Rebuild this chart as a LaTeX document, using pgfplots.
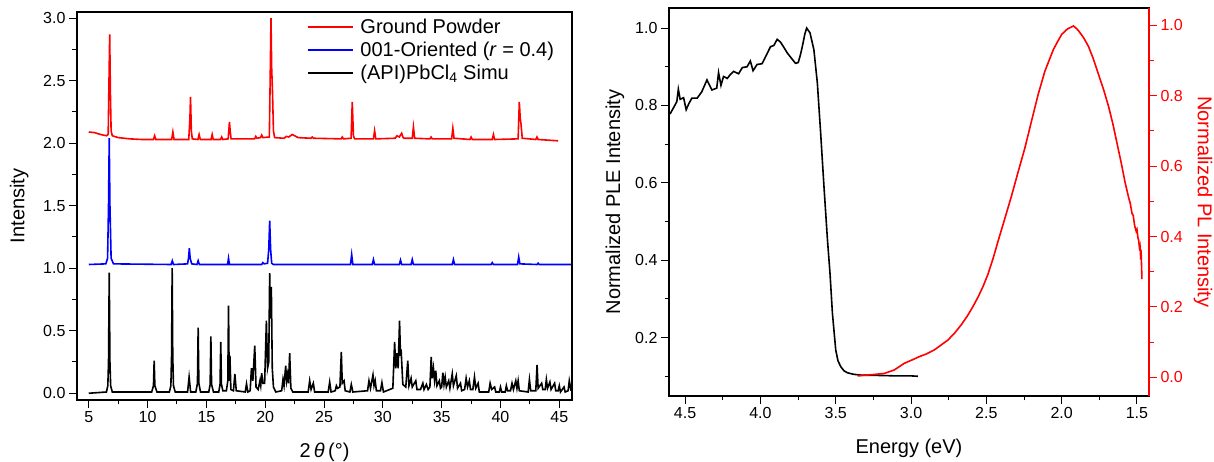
\documentclass[border=0pt]{standalone}
\usepackage{pgfplots}
\pgfplotsset{compat=1.18}
\usepackage{fontspec}
\setmainfont{Liberation Sans}
\begin{document}
\begin{tikzpicture}[x=1pt,y=1pt]
\path[use as bounding box] (0,0) rectangle (1214,462);
\pgfplotsset{
  common/.style={
    scale only axis,
    /pgf/number format/assume math mode=true,
    tick align=outside,
    major tick length=8pt,
    minor tick length=4.5pt,
    every tick/.style={line width=1pt},
    axis line style={line width=1.3pt},
    tick label style={font=\fontsize{16}{16}\selectfont},
    label style={font=\fontsize{20}{22}\selectfont},
  }
}
% ---------------- Left panel: XRD ----------------
\begin{axis}[common,
  at={(77pt,62pt)}, anchor=south west,
  width=495pt, height=388pt,
  xmin=4, xmax=46.08, ymin=-0.054, ymax=3.05,
  xtick={5,10,...,45}, minor x tick num=1,
  ytick={0,0.5,...,3}, minor y tick num=1,
  xtick pos=bottom, ytick pos=left,
  yticklabel style={/pgf/number format/.cd,fixed,fixed zerofill,precision=1},
  xlabel={2\,\textit{θ}\,(°)}, ylabel={Intensity},
  xlabel style={at={(axis description cs:0.5,-0.135)}, anchor=center},
  ylabel style={at={(axis description cs:-0.117,0.5)}, anchor=center},
  legend cell align=left,
  legend image code/.code={\draw[#1] (0pt,0pt) -- (45pt,0pt);},
  legend style={draw=none, fill=none, at={(0.462,0.99)}, anchor=north west,
    font=\fontsize{20}{23}\selectfont, inner sep=1pt, row sep=3pt,
    /tikz/every odd column/.append style={column sep=5pt}},
]
\addplot[red, line width=1.6pt] coordinates {
(5,2.09)(5.5,2.085)(6.0,2.07)(6.5,2.06)(6.65,2.07)(6.72,2.5)(6.78,2.87)(6.84,2.4)(6.9,2.1)(7.0,2.06)(7.5,2.045)(8.5,2.035)(9.5,2.03)
(10.5,2.03)(10.6,2.06)(10.7,2.03)
(12.05,2.03)(12.15,2.09)(12.25,2.03)
(13.5,2.03)(13.6,2.2)(13.65,2.37)(13.72,2.1)(13.8,2.035)
(14.28,2.03)(14.38,2.07)(14.48,2.03)
(15.4,2.03)(15.49,2.07)(15.58,2.03)
(16.2,2.03)(16.3,2.05)(16.4,2.03)
(16.85,2.035)(16.96,2.17)(17.02,2.1)(17.1,2.035)
(19.1,2.035)(19.2,2.055)(19.3,2.04)(19.6,2.045)(19.7,2.065)(19.8,2.045)
(20.35,2.05)(20.42,2.5)(20.49,3.0)(20.55,2.6)(20.62,2.41)(20.7,2.1)(20.8,2.045)
(21.6,2.04)(21.8,2.055)(22.0,2.05)(22.3,2.07)(22.5,2.06)(22.8,2.045)
(23.9,2.04)(24.0,2.05)(24.1,2.04)
(26.45,2.035)(26.55,2.05)(26.65,2.035)
(27.3,2.04)(27.4,2.33)(27.5,2.06)(27.6,2.035)
(29.2,2.035)(29.3,2.10)(29.4,2.035)
(31.05,2.04)(31.2,2.06)(31.4,2.05)(31.6,2.08)(31.7,2.05)(31.8,2.04)
(32.5,2.04)(32.6,2.13)(32.7,2.04)
(34.0,2.035)(34.1,2.05)(34.2,2.035)
(35.85,2.035)(35.95,2.12)(36.05,2.04)
(37.4,2.03)(37.5,2.05)(37.6,2.03)
(39.3,2.03)(39.4,2.07)(39.5,2.03)
(41.5,2.035)(41.6,2.33)(41.68,2.2)(41.75,2.15)(41.85,2.04)
(43.0,2.03)(43.1,2.05)(43.2,2.03)
(44.8,2.02)(44.9,2.02)
};
\addlegendentry{Ground Powder}
\addplot[blue, line width=1.6pt] coordinates {
(5,1.03)(6.45,1.035)(6.6,1.08)(6.68,1.5)(6.74,2.04)(6.8,1.5)(6.9,1.08)(7.1,1.035)
(12.0,1.03)(12.1,1.06)(12.2,1.03)
(13.4,1.035)(13.48,1.08)(13.55,1.16)(13.62,1.08)(13.75,1.035)
(14.2,1.03)(14.3,1.06)(14.4,1.03)
(16.8,1.03)(16.88,1.08)(16.96,1.03)
(19.7,1.03)(19.8,1.045)(19.9,1.035)
(20.2,1.04)(20.3,1.15)(20.38,1.38)(20.46,1.15)(20.55,1.04)(20.7,1.03)
(27.25,1.03)(27.35,1.11)(27.45,1.03)
(29.1,1.03)(29.2,1.07)(29.3,1.03)
(31.4,1.03)(31.5,1.065)(31.6,1.03)
(32.4,1.03)(32.5,1.07)(32.6,1.03)
(35.9,1.03)(36.0,1.07)(36.1,1.03)
(39.2,1.03)(39.3,1.045)(39.4,1.03)
(41.45,1.03)(41.55,1.09)(41.65,1.035)
(43.1,1.03)(43.2,1.04)(43.3,1.03)
(46,1.03)
};
\addlegendentry{001-Oriented (\textit{r} = 0.4)}
\addplot[black, line width=1.6pt] coordinates {
(5,0)(6.5,0.01)(6.62,0.06)(6.68,0.25)(6.74,0.965)(6.8,0.25)(6.86,0.06)(7.0,0.01)
(10.35,0.01)(10.5,0.06)(10.56,0.26)(10.62,0.06)(10.8,0.01)
(11.85,0.01)(11.98,0.06)(12.04,0.3)(12.09,1.0)(12.14,0.3)(12.2,0.06)(12.35,0.01)
(13.4,0.01)(13.53,0.13)(13.66,0.01)
(14.1,0.01)(14.24,0.08)(14.30,0.525)(14.36,0.08)(14.5,0.01)
(15.2,0.01)(15.32,0.07)(15.38,0.455)(15.44,0.07)(15.6,0.01)
(16.05,0.01)(16.16,0.07)(16.22,0.41)(16.28,0.07)(16.4,0.02)
(16.7,0.02)(16.82,0.1)(16.88,0.70)(16.94,0.1)(17.0,0.3)(17.08,0.03)
(17.3,0.02)(17.42,0.155)(17.54,0.02)
(18.3,0.01)(18.41,0.075)(18.52,0.01)
(18.72,0.02)(18.83,0.2)(18.95,0.1)(19.11,0.38)(19.22,0.05)(19.4,0.03)(19.55,0.1)(19.62,0.06)(19.7,0.16)(19.8,0.08)
(19.95,0.08)(20.1,0.58)(20.2,0.2)(20.3,0.25)(20.38,0.96)(20.45,0.6)(20.52,0.85)(20.6,0.2)(20.7,0.05)(20.9,0.01)
(21.4,0.02)(21.51,0.11)(21.6,0.06)(21.74,0.22)(21.82,0.1)(21.9,0.15)(21.98,0.08)(22.08,0.32)(22.18,0.04)(22.35,0.01)
(23.65,0.01)(23.78,0.1)(23.9,0.03)(24.09,0.08)(24.2,0.01)
(25.35,0.01)(25.48,0.09)(25.6,0.01)
(25.95,0.02)(26.05,0.06)(26.15,0.04)(26.35,0.05)(26.47,0.33)(26.55,0.08)(26.7,0.1)(26.8,0.02)
(27.2,0.01)(27.32,0.07)(27.45,0.01)
(28.7,0.02)(28.82,0.1)(28.95,0.04)(29.16,0.146)(29.25,0.06)(29.35,0.1)(29.45,0.02)
(29.8,0.02)(29.92,0.085)(30.05,0.01)
(30.85,0.04)(31.0,0.41)(31.1,0.2)(31.2,0.32)(31.3,0.2)(31.42,0.58)(31.5,0.3)(31.55,0.35)(31.7,0.07)
(31.95,0.05)(32.12,0.26)(32.22,0.06)(32.4,0.12)(32.5,0.05)(32.8,0.1)(32.9,0.03)(33.2,0.03)(33.4,0.08)(33.5,0.03)(33.7,0.07)(33.85,0.03)
(34.0,0.05)(34.11,0.29)(34.2,0.12)(34.3,0.2)(34.4,0.1)(34.5,0.18)(34.6,0.06)(34.8,0.1)(34.9,0.04)
(35.0,0.05)(35.1,0.165)(35.2,0.07)(35.3,0.13)(35.4,0.05)(35.6,0.1)(35.7,0.04)(35.9,0.155)(36.0,0.06)(36.24,0.14)(36.35,0.04)(36.6,0.08)(36.7,0.02)
(36.95,0.03)(37.08,0.12)(37.2,0.05)(37.35,0.1)(37.45,0.03)(37.65,0.03)(37.79,0.13)(37.9,0.04)(38.1,0.08)(38.2,0.01)
(39.0,0.01)(39.12,0.08)(39.25,0.03)(39.5,0.05)(39.6,0.01)
(39.9,0.01)(40.0,0.05)(40.1,0.01)(40.4,0.01)(40.5,0.06)(40.6,0.02)
(40.85,0.02)(40.98,0.08)(41.1,0.03)(41.3,0.1)(41.4,0.04)(41.5,0.1)(41.6,0.02)
(42.35,0.01)(42.46,0.11)(42.57,0.02)
(43.0,0.02)(43.11,0.226)(43.2,0.04)(43.5,0.08)(43.6,0.03)
(43.8,0.03)(43.9,0.11)(44.0,0.04)(44.2,0.09)(44.3,0.03)(44.6,0.08)(44.7,0.02)
(44.9,0.02)(45.0,0.06)(45.1,0.01)(45.4,0.05)(45.5,0.01)(45.75,0.02)(45.85,0.1)(46,0.02)
};
\addlegendentry{(API)PbCl\textsubscript{4} Simu}
\end{axis}
% ---------------- Right panel: PLE / PL ----------------
\begin{axis}[common,
  at={(669pt,66pt)}, anchor=south west,
  width=480pt, height=388pt,
  x dir=reverse,
  xmin=1.42, xmax=4.607, ymin=0.049, ymax=1.052,
  xtick={1.5,2,...,4.5}, minor x tick num=1,
  ytick={0.2,0.4,...,1.0}, minor ytick={0.1,0.3,...,0.9},
  xtick pos=bottom, ytick pos=left,
  xticklabel style={/pgf/number format/.cd,fixed,fixed zerofill,precision=1},
  yticklabel style={/pgf/number format/.cd,fixed,fixed zerofill,precision=1},
  xlabel={Energy (eV)}, ylabel={Normalized PLE Intensity},
  xlabel style={at={(axis description cs:0.5,-0.134)}, anchor=center},
  ylabel style={at={(axis description cs:-0.1125,0.5)}, anchor=center},
]
\addplot[black, line width=1.6pt] coordinates {
(4.60,0.778)(4.573,0.797)(4.555,0.81)(4.545,0.842)(4.533,0.816)(4.51,0.82)(4.493,0.789)(4.475,0.805)(4.455,0.819)(4.42,0.819)
(4.39,0.835)(4.355,0.866)(4.322,0.84)(4.29,0.845)(4.278,0.885)(4.262,0.852)(4.245,0.875)(4.22,0.87)(4.2,0.88)(4.178,0.888)
(4.145,0.882)(4.12,0.898)(4.089,0.9)(4.067,0.915)(4.049,0.89)(4.022,0.906)(3.989,0.908)(3.967,0.925)(3.933,0.952)(3.911,0.955)
(3.889,0.971)(3.867,0.964)(3.844,0.95)(3.822,0.936)(3.8,0.925)(3.767,0.909)(3.749,0.911)(3.735,0.93)(3.722,0.952)(3.705,0.985)(3.693,1.0)
(3.671,0.988)(3.645,0.944)(3.622,0.858)(3.6,0.728)(3.578,0.59)(3.555,0.453)(3.538,0.366)(3.522,0.263)(3.5,0.168)
(3.485,0.14)(3.467,0.125)(3.445,0.114)(3.422,0.109)(3.38,0.105)(3.333,0.103)(3.2,0.102)(3.1,0.101)(3.0,0.101)(2.955,0.1)
};
\end{axis}
\begin{axis}[common,
  at={(669pt,66pt)}, anchor=south west,
  width=480pt, height=388pt,
  x dir=reverse,
  xmin=1.42, xmax=4.607, ymin=-0.053, ymax=1.049,
  axis x line=none, axis y line*=right,
  ytick={0,0.2,...,1.0}, minor y tick num=1,
  y axis line style={red, line width=1.3pt},
  ytick style={red},
  yticklabel style={red,/pgf/number format/.cd,fixed,fixed zerofill,precision=1},
  ylabel={Normalized PL Intensity},
  ylabel style={red, rotate=180, at={(axis description cs:1.1125,0.5)}, anchor=center},
]
\addplot[red, line width=1.6pt] coordinates {
(3.355,0.004)(3.3,0.006)(3.25,0.008)(3.178,0.011)(3.111,0.021)(3.044,0.04)(2.99,0.05)(2.944,0.059)(2.9,0.066)
(2.845,0.078)(2.8,0.092)(2.755,0.106)(2.71,0.126)(2.667,0.149)(2.625,0.175)(2.589,0.201)(2.555,0.228)(2.522,0.258)
(2.49,0.292)(2.455,0.338)(2.42,0.39)(2.385,0.44)(2.333,0.515)(2.29,0.582)(2.245,0.65)(2.2,0.728)(2.155,0.805)(2.111,0.87)
(2.055,0.931)(2.025,0.955)(2.0,0.974)(1.96,0.99)(1.935,0.995)(1.922,0.998)(1.905,0.992)(1.889,0.985)(1.855,0.965)
(1.822,0.94)(1.79,0.905)(1.755,0.86)(1.72,0.815)(1.689,0.77)(1.66,0.72)(1.633,0.666)(1.605,0.61)(1.578,0.552)
(1.555,0.51)(1.545,0.495)(1.533,0.466)(1.525,0.46)(1.515,0.43)(1.505,0.415)(1.5,0.42)(1.493,0.395)(1.489,0.39)
(1.484,0.37)(1.48,0.375)(1.476,0.345)(1.472,0.35)(1.469,0.31)(1.467,0.279)
};
\end{axis}
\end{tikzpicture}
\end{document}
